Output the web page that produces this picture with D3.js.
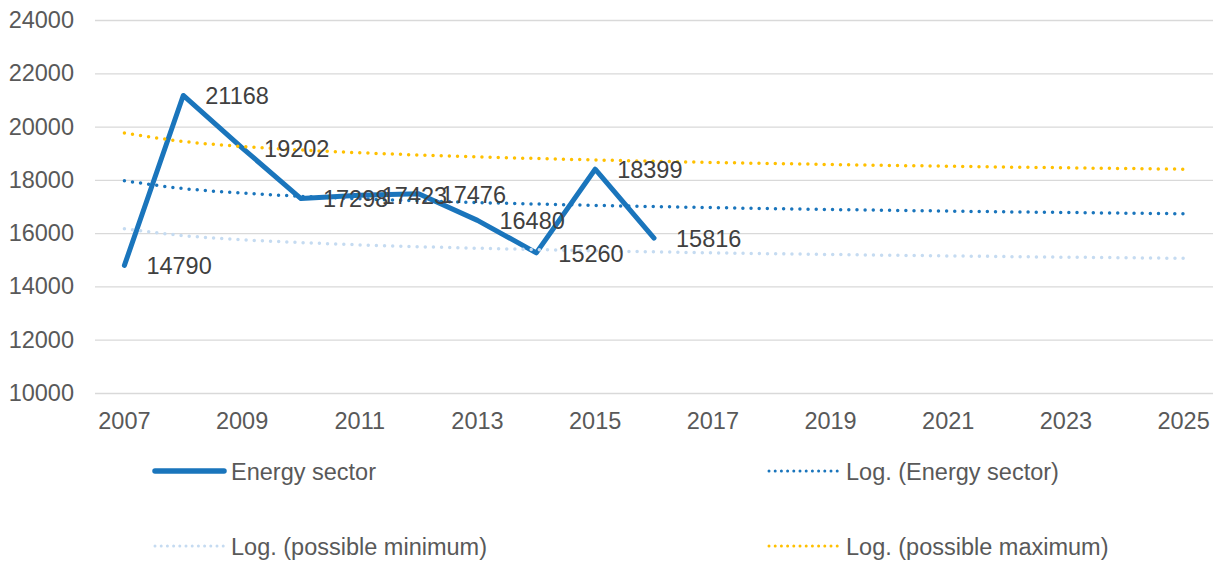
<!DOCTYPE html>
<html>
<head>
<meta charset="utf-8">
<script src="https://cdn.jsdelivr.net/npm/d3@7.9.0/dist/d3.min.js"></script>
<style>
  html, body { margin: 0; padding: 0; background: #fff; }
  svg { display: block; font-family: "Liberation Sans", Arial, sans-serif; }
</style>
</head>
<body>
<svg id="chart" width="1219" height="561"></svg>
<script>
// categories (years on the axis)
const years = d3.range(2007, 2026);
const tickYears = [2007, 2009, 2011, 2013, 2015, 2017, 2019, 2021, 2023, 2025];
const yTicks = [10000, 12000, 14000, 16000, 18000, 20000, 22000, 24000];

// actual data
const energyYears = [2007, 2008, 2009, 2010, 2011, 2012, 2013, 2014, 2015, 2016];
const energy = [14790, 21168, 19202, 17298, 17423, 17476, 16480, 15260, 18399, 15816];

// logarithmic trendlines for every year 2007..2025
const trendEnergy = [17965, 17674, 17504, 17383, 17289, 17212, 17148, 17092, 17042, 16998,
                     16958, 16921, 16888, 16857, 16828, 16800, 16775, 16751, 16729];
const trendMin = [16169, 15907, 15754, 15645, 15560, 15491, 15433, 15383, 15338, 15298,
                  15262, 15229, 15199, 15171, 15145, 15120, 15098, 15076, 15056];
const trendMax = [19762, 19441, 19254, 19121, 19018, 18933, 18863, 18801, 18746, 18698,
                  18654, 18613, 18577, 18543, 18511, 18480, 18453, 18426, 18402];

const BLUE = '#1a75bc', LIGHT = '#c5dbf1', GOLD = '#ffc000';
const FS = 23.5;

const svg = d3.select('#chart');
const m = { left: 95, right: 1213, top: 20, bottom: 393 };

const x = d3.scaleBand().domain(years).range([m.left, m.right]);
const cx = yr => x(yr) + x.bandwidth() / 2;
const y = d3.scaleLinear().domain([10000, 24000]).range([m.bottom, m.top]);

// gridlines
svg.append('g')
  .attr('transform', `translate(${m.left},0)`)
  .call(d3.axisLeft(y).tickValues(yTicks).tickSize(-(m.right - m.left)).tickFormat(''))
  .call(g => g.select('.domain').remove())
  .call(g => g.selectAll('line').attr('stroke', '#d9d9d9').attr('stroke-width', 1.3));

// y labels
svg.append('g')
  .attr('transform', 'translate(74,0)')
  .call(d3.axisLeft(y).tickValues(yTicks).tickSize(0).tickPadding(0).tickFormat(d3.format('d')))
  .call(g => g.select('.domain').remove())
  .call(g => g.selectAll('text').attr('fill', '#595959').style('font-size', FS + 'px')
    .style('font-family', '"Liberation Sans", Arial, sans-serif'));

// x labels
svg.append('g')
  .attr('transform', `translate(0,${m.bottom})`)
  .call(d3.axisBottom(x).tickValues(tickYears).tickSize(0).tickPadding(19))
  .call(g => g.select('.domain').remove())
  .call(g => g.selectAll('text').attr('fill', '#595959').style('font-size', FS + 'px')
    .style('font-family', '"Liberation Sans", Arial, sans-serif'));

// main series
const line = d3.line().x(d => cx(d[0])).y(d => y(d[1]));
svg.append('path')
  .datum(energyYears.map((yr, i) => [yr, energy[i]]))
  .attr('d', line)
  .attr('fill', 'none').attr('stroke', BLUE).attr('stroke-width', 5)
  .attr('stroke-linejoin', 'round').attr('stroke-linecap', 'round');

// trendlines
const trends = [
  { vals: trendEnergy, color: BLUE },
  { vals: trendMin, color: LIGHT },
  { vals: trendMax, color: GOLD }
];
const curve = d3.line().curve(d3.curveMonotoneX).x(d => cx(d[0])).y(d => y(d[1]));
trends.forEach(t => {
  svg.append('path')
    .datum(years.map((yr, i) => [yr, t.vals[i]]))
    .attr('d', curve)
    .attr('fill', 'none').attr('stroke', t.color).attr('stroke-width', 3.5)
    .attr('stroke-linecap', 'round').attr('stroke-dasharray', '0 8.15');
});

// data labels
svg.append('g').selectAll('text')
  .data(energyYears.map((yr, i) => [yr, energy[i]]))
  .join('text')
  .attr('x', d => cx(d[0]) + 22)
  .attr('y', d => y(d[1]))
  .attr('dy', '0.37em')
  .attr('fill', '#404040')
  .style('font-size', FS + 'px')
  .text(d => d[1]);

// legend
const legend = [
  { label: 'Energy sector', color: BLUE, x0: 155, x1: 224, ty: 471, solid: true },
  { label: 'Log. (Energy sector)', color: BLUE, x0: 769, x1: 839, ty: 471 },
  { label: 'Log. (possible minimum)', color: LIGHT, x0: 155, x1: 224, ty: 546 },
  { label: 'Log. (possible maximum)', color: GOLD, x0: 769, x1: 839, ty: 546 }
];
const lg = svg.append('g').selectAll('g').data(legend).join('g');
lg.append('line')
  .attr('x1', d => d.x0).attr('x2', d => d.x1)
  .attr('y1', d => d.ty).attr('y2', d => d.ty)
  .attr('stroke', d => d.color)
  .attr('stroke-width', d => d.solid ? 5.5 : 3)
  .attr('stroke-linecap', 'round')
  .attr('stroke-dasharray', d => d.solid ? null : '0 6.2');
lg.append('text')
  .attr('x', d => d.x1 + 7)
  .attr('y', d => d.ty)
  .attr('dy', '0.37em')
  .attr('fill', '#595959')
  .style('font-size', FS + 'px')
  .text(d => d.label);
</script>
</body>
</html>
